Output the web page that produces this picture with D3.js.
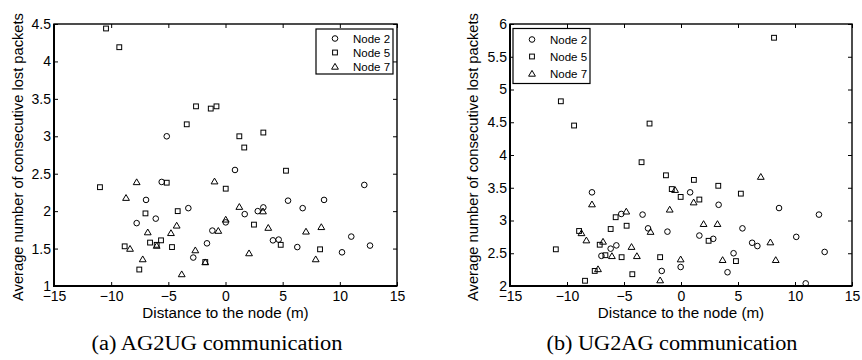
<!DOCTYPE html>
<html>
<head>
<meta charset="utf-8">
<script src="https://cdn.jsdelivr.net/npm/d3@7"></script>
<style>
body { margin: 0; background: #fff; }
svg text { font-family: "Liberation Sans", Arial, Helvetica, sans-serif; fill: #000; }
.caption { font-family: "Liberation Serif", "Times New Roman", serif; }
</style>
</head>
<body>
<svg id="chart" width="862" height="360"></svg>
<script>
const xTicks = [-15, -10, -5, 0, 5, 10, 15];
const yTicksA = [1, 1.5, 2, 2.5, 3, 3.5, 4, 4.5];
const yTicksB = [2, 2.5, 3, 3.5, 4, 4.5, 5, 5.5, 6];
const nodeNames = ["Node 2", "Node 5", "Node 7"];
const captions = ["(a) AG2UG communication", "(b) UG2AG communication"];
const xLabel = "Distance to the node (m)";
const yLabel = "Average number of consecutive lost packets";

// (a) AG2UG: [distance, avg consecutive lost packets]
const agNode2 = [[-5.14,3.00],[0.83,2.55],[-5.58,2.39],[-6.95,2.15],[-7.77,1.84],[-3.25,2.04],[-6.10,1.90],
  [-1.15,1.74],[-1.62,1.57],[-2.82,1.38],[12.14,2.35],[5.47,2.14],[8.62,2.15],[6.75,2.04],[1.68,1.96],
  [2.82,2.00],[3.31,2.05],[0.02,1.85],[4.15,1.61],[4.65,1.62],[6.28,1.52],[10.19,1.45],[11.0,1.66],[12.64,1.54]];
const agNode5 = [[-10.45,4.44],[-9.29,4.19],[-3.39,3.16],[-2.58,3.40],[-1.29,3.37],[-0.79,3.40],[1.21,3.00],
  [3.31,3.05],[1.64,2.85],[5.29,2.54],[-10.98,2.32],[-5.14,2.38],[0.02,2.30],[-7.0,1.97],[-4.18,2.00],
  [-6.60,1.58],[-6.02,1.55],[-5.64,1.61],[-8.82,1.53],[-4.68,1.52],[-7.54,1.22],[-1.77,1.32],[2.49,1.82],
  [4.83,1.55],[8.27,1.49]];
const agNode7 = [[-0.96,2.40],[-7.77,2.39],[-8.70,2.18],[-6.80,1.72],[-4.27,1.81],[-4.77,1.71],[-0.63,1.74],
  [-8.35,1.50],[-6.02,1.54],[-2.64,1.48],[-7.24,1.36],[-1.77,1.32],[-3.83,1.16],[1.21,2.06],[3.28,2.00],
  [0.02,1.89],[3.74,1.78],[7.04,1.73],[8.38,1.79],[2.06,1.44],[7.89,1.36]];

// (b) UG2AG
const ugNode2 = [[-7.81,3.43],[-5.24,3.10],[-3.37,3.09],[-2.89,2.88],[-6.17,2.57],[-5.67,2.62],[-6.98,2.46],
  [0.80,3.43],[3.30,3.24],[8.60,3.19],[12.10,3.09],[5.39,2.88],[-1.19,2.83],[1.61,2.77],[2.83,2.72],
  [6.24,2.66],[6.70,2.61],[10.11,2.75],[12.60,2.52],[4.61,2.50],[-0.03,2.29],[-1.69,2.23],[4.08,2.21],[10.94,2.04]];
const ugNode5 = [[-10.54,4.82],[-9.38,4.45],[-2.76,4.48],[-3.46,3.89],[8.16,5.79],[-1.32,3.69],[1.13,3.62],
  [-0.81,3.48],[3.27,3.53],[-0.03,3.36],[1.61,3.32],[5.25,3.41],[-5.73,3.05],[-6.17,2.87],[-4.77,2.92],
  [-8.94,2.84],[-7.13,2.63],[-6.63,2.47],[-5.21,2.44],[-10.98,2.56],[-7.57,2.23],[-4.27,2.18],[-8.42,2.08],
  [2.42,2.69],[-1.83,2.44],[4.82,2.38]];
const ugNode7 = [[7.00,3.67],[-7.81,3.25],[-4.80,3.14],[-8.73,2.81],[-8.30,2.70],[-6.84,2.68],[-6.06,2.46],
  [-4.34,2.60],[-3.87,2.46],[-7.28,2.26],[-0.52,3.47],[1.11,3.28],[-0.99,3.17],[1.98,2.95],[3.20,2.95],
  [-2.67,2.83],[7.84,2.67],[-0.03,2.41],[3.65,2.40],[8.31,2.40],[-1.83,2.09]];

const panels = [
  { x0: 54, x1: 397, y0: 24, y1: 286, yDomain: [1, 4.5], yTicks: yTicksA,
    series: [agNode2, agNode5, agNode7], caption: captions[0], yLabelX: 23, capX: 217,
    legend: { x: 316, y: 29, w: 77, h: 45, row: 14, first: 9.5 } },
  { x0: 510, x1: 852, y0: 24, y1: 286, yDomain: [2, 6], yTicks: yTicksB,
    series: [ugNode2, ugNode5, ugNode7], caption: captions[1], yLabelX: 478, capX: 672,
    legend: { x: 513, y: 28.5, w: 77, h: 55, row: 17, first: 11 } }
];

const markers = [
  g => g.append("circle").attr("r", 2.8),
  g => g.append("rect").attr("x", -2.4).attr("y", -2.4).attr("width", 4.8).attr("height", 4.8),
  g => g.append("path").attr("d", "M0,-3.1 L3.4,2.7 L-3.4,2.7 Z")
];

const fmt = d3.format("~g");
const svg = d3.select("#chart");

panels.forEach(p => {
  const x = d3.scaleLinear().domain([-15, 15]).range([p.x0, p.x1]);
  const y = d3.scaleLinear().domain(p.yDomain).range([p.y1, p.y0]);
  const g = svg.append("g");

  // ticks inside the box on all four sides
  const bottom = g.append("g").attr("transform", `translate(0,${p.y1})`)
    .call(d3.axisBottom(x).tickValues(xTicks).tickFormat(fmt).tickSizeInner(-4).tickSizeOuter(0));
  const top = g.append("g").attr("transform", `translate(0,${p.y0})`)
    .call(d3.axisTop(x).tickValues(xTicks).tickSizeInner(-4).tickSizeOuter(0).tickFormat(""));
  const left = g.append("g").attr("transform", `translate(${p.x0},0)`)
    .call(d3.axisLeft(y).tickValues(p.yTicks).tickFormat(fmt).tickSizeInner(-4).tickSizeOuter(0).tickPadding(3));
  const right = g.append("g").attr("transform", `translate(${p.x1},0)`)
    .call(d3.axisRight(y).tickValues(p.yTicks).tickSizeInner(-4).tickSizeOuter(0).tickFormat(""));

  [bottom, top, left, right].forEach(a => {
    a.select(".domain").remove();
    a.selectAll("line").attr("stroke", "#000").attr("stroke-width", 1);
    a.selectAll("text").attr("font-size", 14).attr("font-family", null);
  });
  bottom.selectAll("text").attr("dy", "0.71em").attr("y", 5.5);

  g.append("rect")
    .attr("x", p.x0).attr("y", p.y0)
    .attr("width", p.x1 - p.x0).attr("height", p.y1 - p.y0)
    .attr("fill", "none").attr("stroke", "#000").attr("stroke-width", 1.4);
  g.append("path")
    .attr("d", `M${p.x0},${p.y0}V${p.y1}H${p.x1}`)
    .attr("fill", "none").attr("stroke", "#000").attr("stroke-width", 2);

  // points
  p.series.forEach((data, i) => {
    g.append("g").selectAll("g")
      .data(data)
      .enter()
      .append("g")
      .attr("transform", d => `translate(${x(d[0])},${y(d[1])})`)
      .each(function() { markers[i](d3.select(this)); })
      .selectAll("*")
      .attr("fill", "none").attr("stroke", "#000").attr("stroke-width", 1);
  });

  // legend
  const L = p.legend;
  const leg = g.append("g");
  leg.append("rect")
    .attr("x", L.x).attr("y", L.y).attr("width", L.w).attr("height", L.h)
    .attr("fill", "#fff").attr("stroke", "#000").attr("stroke-width", 1.2);
  nodeNames.forEach((name, i) => {
    const row = leg.append("g")
      .attr("transform", `translate(${L.x + 19},${L.y + L.first + i * L.row})`);
    markers[i](row).attr("fill", "none").attr("stroke", "#000").attr("stroke-width", 1);
    leg.append("text")
      .attr("x", L.x + 37).attr("y", L.y + L.first + i * L.row)
      .attr("dy", "0.36em").attr("font-size", 11.5)
      .text(name);
  });

  // axis labels
  g.append("text")
    .attr("x", (p.x0 + p.x1) / 2).attr("y", 318)
    .attr("text-anchor", "middle").attr("font-size", 15.2)
    .text(xLabel);
  g.append("text")
    .attr("transform", `translate(${p.yLabelX},${(p.y0 + p.y1) / 2 + 2}) rotate(-90)`)
    .attr("text-anchor", "middle").attr("font-size", 14.7)
    .text(yLabel);

  g.append("text")
    .attr("class", "caption")
    .attr("x", p.capX).attr("y", 350)
    .attr("text-anchor", "middle").attr("font-size", 20)
    .attr("textLength", 251).attr("lengthAdjust", "spacingAndGlyphs")
    .text(p.caption);
});
</script>
</body>
</html>
